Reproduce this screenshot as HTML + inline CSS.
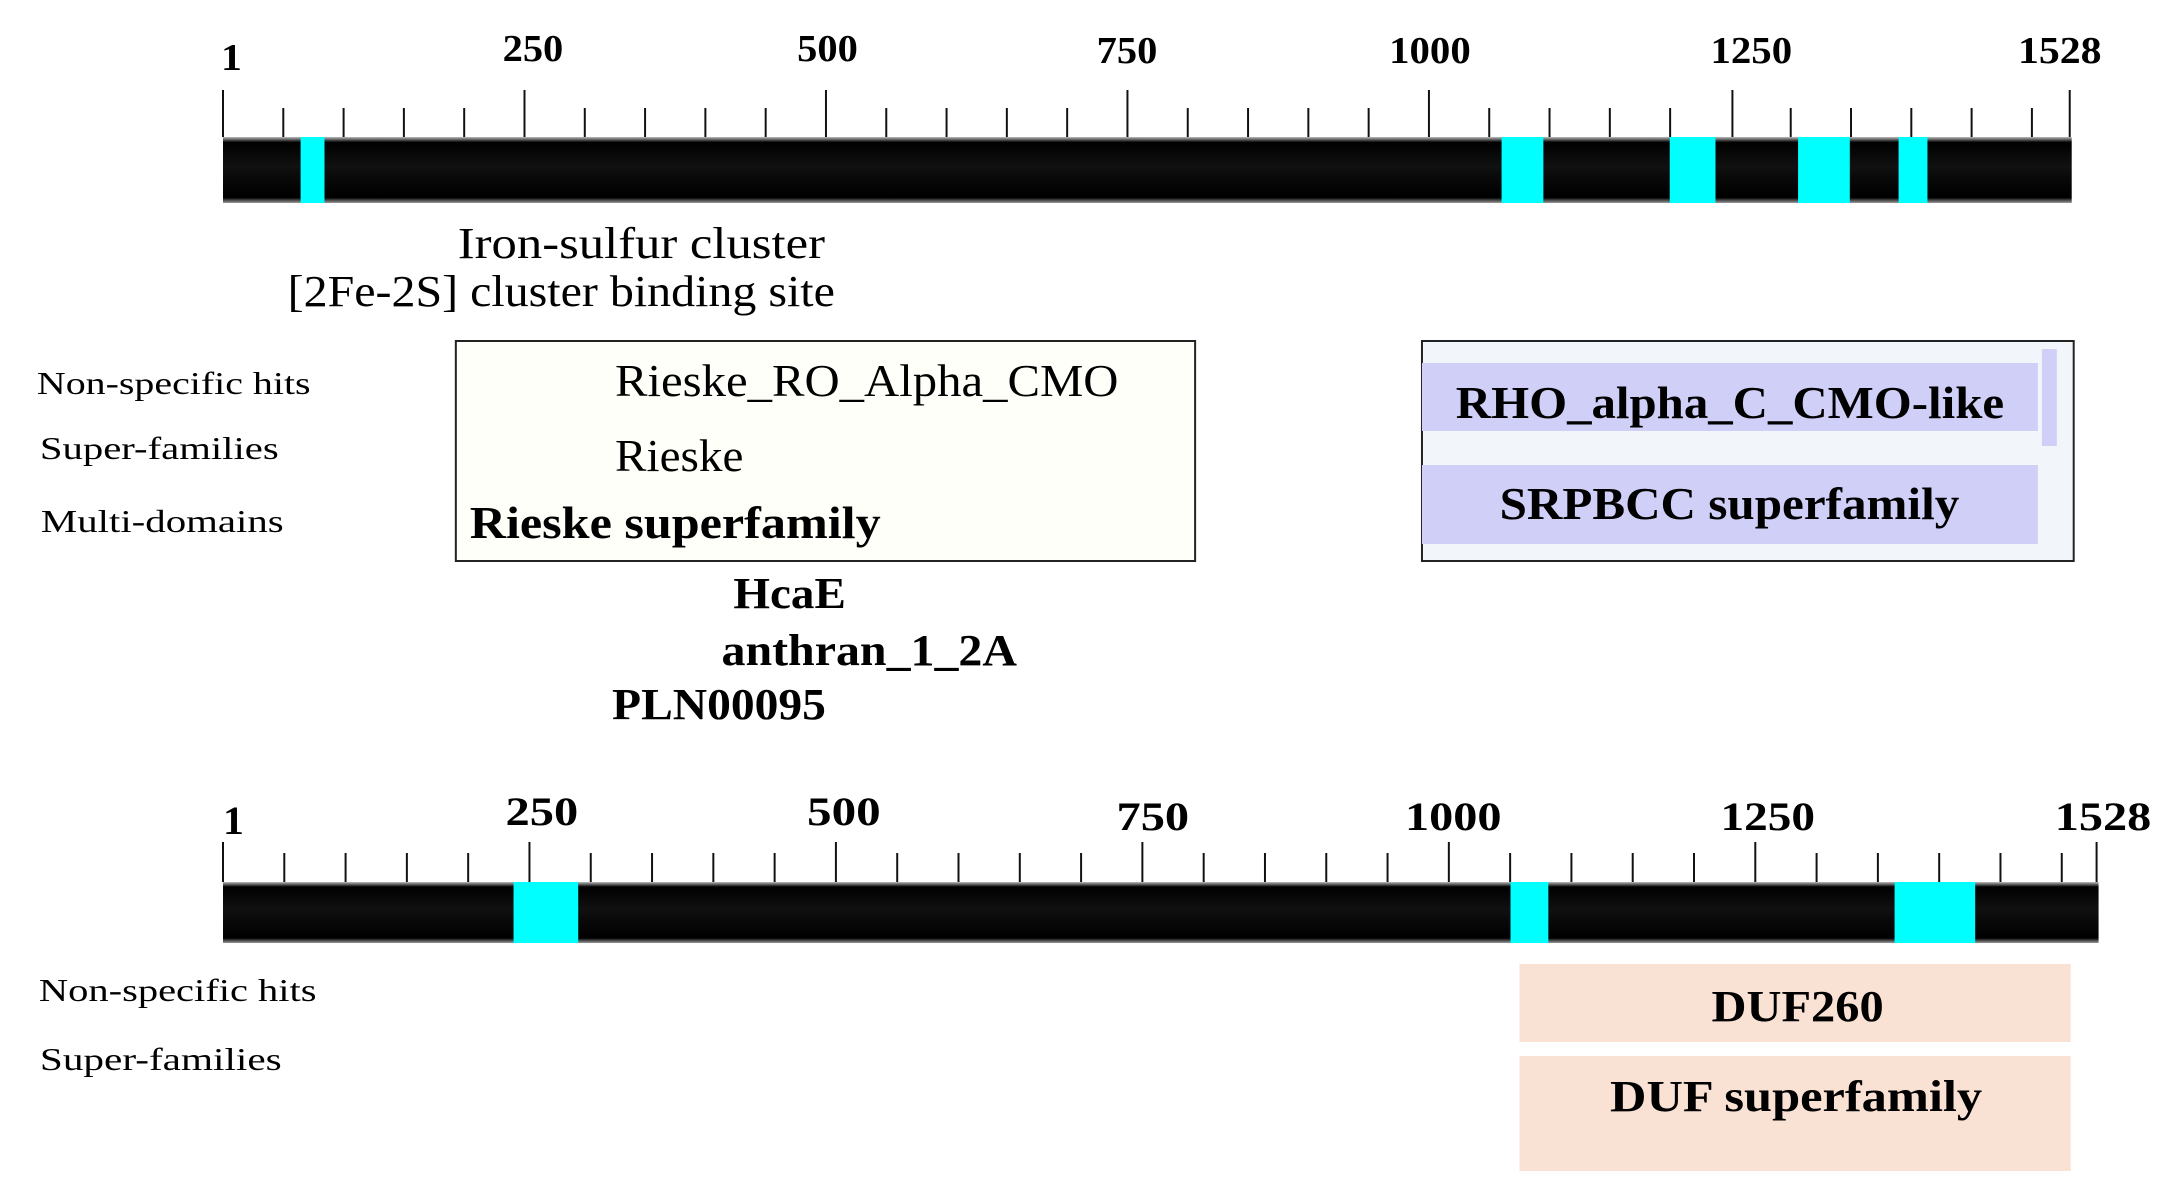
<!DOCTYPE html>
<html><head><meta charset="utf-8"><style>
html,body{margin:0;padding:0;background:#fff}
svg{display:block}
text{font-family:"Liberation Serif",serif;fill:#000}
.b{font-weight:bold}
</style></head><body>
<svg width="2164" height="1195" viewBox="0 0 2164 1195" xmlns="http://www.w3.org/2000/svg">
<defs>
<linearGradient id="bar" x1="0" y1="0" x2="0" y2="1">
<stop offset="0" stop-color="#bbb"/><stop offset="0.08" stop-color="#000"/>
<stop offset="0.45" stop-color="#111"/><stop offset="0.6" stop-color="#0a0a0a"/>
<stop offset="0.92" stop-color="#000"/><stop offset="1" stop-color="#999"/>
</linearGradient>
</defs>
<g transform="matrix(0.995,0,0,1,1.115,0)">
<!-- TOP BAR -->
<g stroke="#111" stroke-width="2">
<line x1="223" y1="90" x2="223" y2="137"/>
<line x1="283.6" y1="108" x2="283.6" y2="137"/><line x1="344.2" y1="108" x2="344.2" y2="137"/><line x1="404.8" y1="108" x2="404.8" y2="137"/><line x1="465.4" y1="108" x2="465.4" y2="137"/>
<line x1="526" y1="90" x2="526" y2="137"/>
<line x1="586.6" y1="108" x2="586.6" y2="137"/><line x1="647.2" y1="108" x2="647.2" y2="137"/><line x1="707.8" y1="108" x2="707.8" y2="137"/><line x1="768.4" y1="108" x2="768.4" y2="137"/>
<line x1="829" y1="90" x2="829" y2="137"/>
<line x1="889.6" y1="108" x2="889.6" y2="137"/><line x1="950.2" y1="108" x2="950.2" y2="137"/><line x1="1010.8" y1="108" x2="1010.8" y2="137"/><line x1="1071.4" y1="108" x2="1071.4" y2="137"/>
<line x1="1132" y1="90" x2="1132" y2="137"/>
<line x1="1192.6" y1="108" x2="1192.6" y2="137"/><line x1="1253.2" y1="108" x2="1253.2" y2="137"/><line x1="1313.8" y1="108" x2="1313.8" y2="137"/><line x1="1374.4" y1="108" x2="1374.4" y2="137"/>
<line x1="1435" y1="90" x2="1435" y2="137"/>
<line x1="1495.6" y1="108" x2="1495.6" y2="137"/><line x1="1556.2" y1="108" x2="1556.2" y2="137"/><line x1="1616.8" y1="108" x2="1616.8" y2="137"/><line x1="1677.4" y1="108" x2="1677.4" y2="137"/>
<line x1="1740" y1="90" x2="1740" y2="137"/>
<line x1="1798.6" y1="108" x2="1798.6" y2="137"/><line x1="1859.2" y1="108" x2="1859.2" y2="137"/><line x1="1919.8" y1="108" x2="1919.8" y2="137"/><line x1="1980.4" y1="108" x2="1980.4" y2="137"/>
<line x1="2041" y1="108" x2="2041" y2="137"/>
<line x1="2079" y1="90" x2="2079" y2="137"/>
</g>
<rect x="223" y="137" width="1858" height="66" fill="url(#bar)"/>
<g fill="#00ffff">
<rect x="301" y="137" width="24" height="66"/>
<rect x="1508" y="137" width="42" height="66"/>
<rect x="1677" y="137" width="46" height="66"/>
<rect x="1806" y="137" width="52" height="66"/>
<rect x="1907" y="137" width="29" height="66"/>
</g>
<g class="b" font-size="38">
<text x="221" y="70" textLength="21" lengthAdjust="spacingAndGlyphs" class="b">1</text>
<text x="504" y="61" textLength="61" lengthAdjust="spacingAndGlyphs" class="b">250</text>
<text x="800" y="61" textLength="61" lengthAdjust="spacingAndGlyphs" class="b">500</text>
<text x="1101" y="63" textLength="61" lengthAdjust="spacingAndGlyphs" class="b">750</text>
<text x="1395" y="63" textLength="82" lengthAdjust="spacingAndGlyphs" class="b">1000</text>
<text x="1718" y="63" textLength="82" lengthAdjust="spacingAndGlyphs" class="b">1250</text>
<text x="2027" y="63" textLength="84" lengthAdjust="spacingAndGlyphs" class="b">1528</text>
</g>

<text x="459" y="258" font-size="44" textLength="369" lengthAdjust="spacingAndGlyphs">Iron-sulfur cluster</text>
<text x="288" y="306" font-size="44" textLength="550" lengthAdjust="spacingAndGlyphs">[2Fe-2S] cluster binding site</text>

<text x="36" y="394" font-size="32" textLength="275" lengthAdjust="spacingAndGlyphs">Non-specific hits</text>
<text x="39" y="459" font-size="32" textLength="240" lengthAdjust="spacingAndGlyphs">Super-families</text>
<text x="40" y="532" font-size="32" textLength="244" lengthAdjust="spacingAndGlyphs">Multi-domains</text>

<rect x="457" y="341" width="743" height="220" fill="#fffffa" stroke="#222" stroke-width="2"/>
<text x="617" y="396" font-size="46" textLength="506" lengthAdjust="spacingAndGlyphs">Rieske_RO_Alpha_CMO</text>
<text x="617" y="471" font-size="46" textLength="129" lengthAdjust="spacingAndGlyphs">Rieske</text>
<text x="471" y="538" font-size="46" class="b" textLength="413" lengthAdjust="spacingAndGlyphs">Rieske superfamily</text>

<rect x="1428" y="341" width="655" height="220" fill="#f2f6fb" stroke="#222" stroke-width="2"/>
<rect x="1428" y="363" width="619" height="68" fill="#cfcff8"/>
<rect x="2051" y="349" width="15" height="97" fill="#cfcff8"/>
<rect x="1428" y="465" width="619" height="79" fill="#cfcff8"/>
<text x="1462" y="418" font-size="46" class="b" textLength="551" lengthAdjust="spacingAndGlyphs">RHO_alpha_C_CMO-like</text>
<text x="1506" y="519" font-size="46" class="b" textLength="462" lengthAdjust="spacingAndGlyphs">SRPBCC superfamily</text>

<text x="736" y="608" font-size="44" class="b" textLength="113" lengthAdjust="spacingAndGlyphs">HcaE</text>
<text x="724" y="665" font-size="44" class="b" textLength="297" lengthAdjust="spacingAndGlyphs">anthran_1_2A</text>
<text x="614" y="719" font-size="44" class="b" textLength="215" lengthAdjust="spacingAndGlyphs">PLN00095</text>

<!-- BOTTOM BAR -->
<g stroke="#111" stroke-width="2">
<line x1="223" y1="842" x2="223" y2="882"/>
<line x1="284.6" y1="853" x2="284.6" y2="882"/><line x1="346.2" y1="853" x2="346.2" y2="882"/><line x1="407.8" y1="853" x2="407.8" y2="882"/><line x1="469.4" y1="853" x2="469.4" y2="882"/>
<line x1="531" y1="842" x2="531" y2="882"/>
<line x1="592.6" y1="853" x2="592.6" y2="882"/><line x1="654.2" y1="853" x2="654.2" y2="882"/><line x1="715.8" y1="853" x2="715.8" y2="882"/><line x1="777.4" y1="853" x2="777.4" y2="882"/>
<line x1="839" y1="842" x2="839" y2="882"/>
<line x1="900.6" y1="853" x2="900.6" y2="882"/><line x1="962.2" y1="853" x2="962.2" y2="882"/><line x1="1023.8" y1="853" x2="1023.8" y2="882"/><line x1="1085.4" y1="853" x2="1085.4" y2="882"/>
<line x1="1147" y1="842" x2="1147" y2="882"/>
<line x1="1208.6" y1="853" x2="1208.6" y2="882"/><line x1="1270.2" y1="853" x2="1270.2" y2="882"/><line x1="1331.8" y1="853" x2="1331.8" y2="882"/><line x1="1393.4" y1="853" x2="1393.4" y2="882"/>
<line x1="1455" y1="842" x2="1455" y2="882"/>
<line x1="1516.6" y1="853" x2="1516.6" y2="882"/><line x1="1578.2" y1="853" x2="1578.2" y2="882"/><line x1="1639.8" y1="853" x2="1639.8" y2="882"/><line x1="1701.4" y1="853" x2="1701.4" y2="882"/>
<line x1="1763" y1="842" x2="1763" y2="882"/>
<line x1="1824.6" y1="853" x2="1824.6" y2="882"/><line x1="1886.2" y1="853" x2="1886.2" y2="882"/><line x1="1947.8" y1="853" x2="1947.8" y2="882"/><line x1="2009.4" y1="853" x2="2009.4" y2="882"/>
<line x1="2071" y1="853" x2="2071" y2="882"/>
<line x1="2106" y1="842" x2="2106" y2="882"/>
</g>
<rect x="223" y="882" width="1885" height="61" fill="url(#bar)"/>
<g fill="#00ffff">
<rect x="515" y="882" width="65" height="61"/>
<rect x="1517" y="882" width="38" height="61"/>
<rect x="1903" y="882" width="81" height="61"/>
</g>
<g font-size="40">
<text x="223" y="834" textLength="21" lengthAdjust="spacingAndGlyphs" class="b">1</text>
<text x="507" y="825" textLength="73" lengthAdjust="spacingAndGlyphs" class="b">250</text>
<text x="810" y="825" textLength="74" lengthAdjust="spacingAndGlyphs" class="b">500</text>
<text x="1121" y="830" textLength="73" lengthAdjust="spacingAndGlyphs" class="b">750</text>
<text x="1411" y="830" textLength="97" lengthAdjust="spacingAndGlyphs" class="b">1000</text>
<text x="1728" y="830" textLength="95" lengthAdjust="spacingAndGlyphs" class="b">1250</text>
<text x="2064" y="830" textLength="97" lengthAdjust="spacingAndGlyphs" class="b">1528</text>
</g>
<text x="38" y="1001" font-size="32" textLength="279" lengthAdjust="spacingAndGlyphs">Non-specific hits</text>
<text x="39" y="1070" font-size="32" textLength="243" lengthAdjust="spacingAndGlyphs">Super-families</text>

<rect x="1526" y="964" width="554" height="78" fill="#f9e1d3"/>
<rect x="1526" y="1056" width="554" height="115" fill="#f9e1d3"/>
<text x="1719" y="1021" font-size="44" class="b" textLength="173" lengthAdjust="spacingAndGlyphs">DUF260</text>
<text x="1617" y="1111" font-size="44" class="b" textLength="374" lengthAdjust="spacingAndGlyphs">DUF superfamily</text>
</g>
</svg>
</body></html>
